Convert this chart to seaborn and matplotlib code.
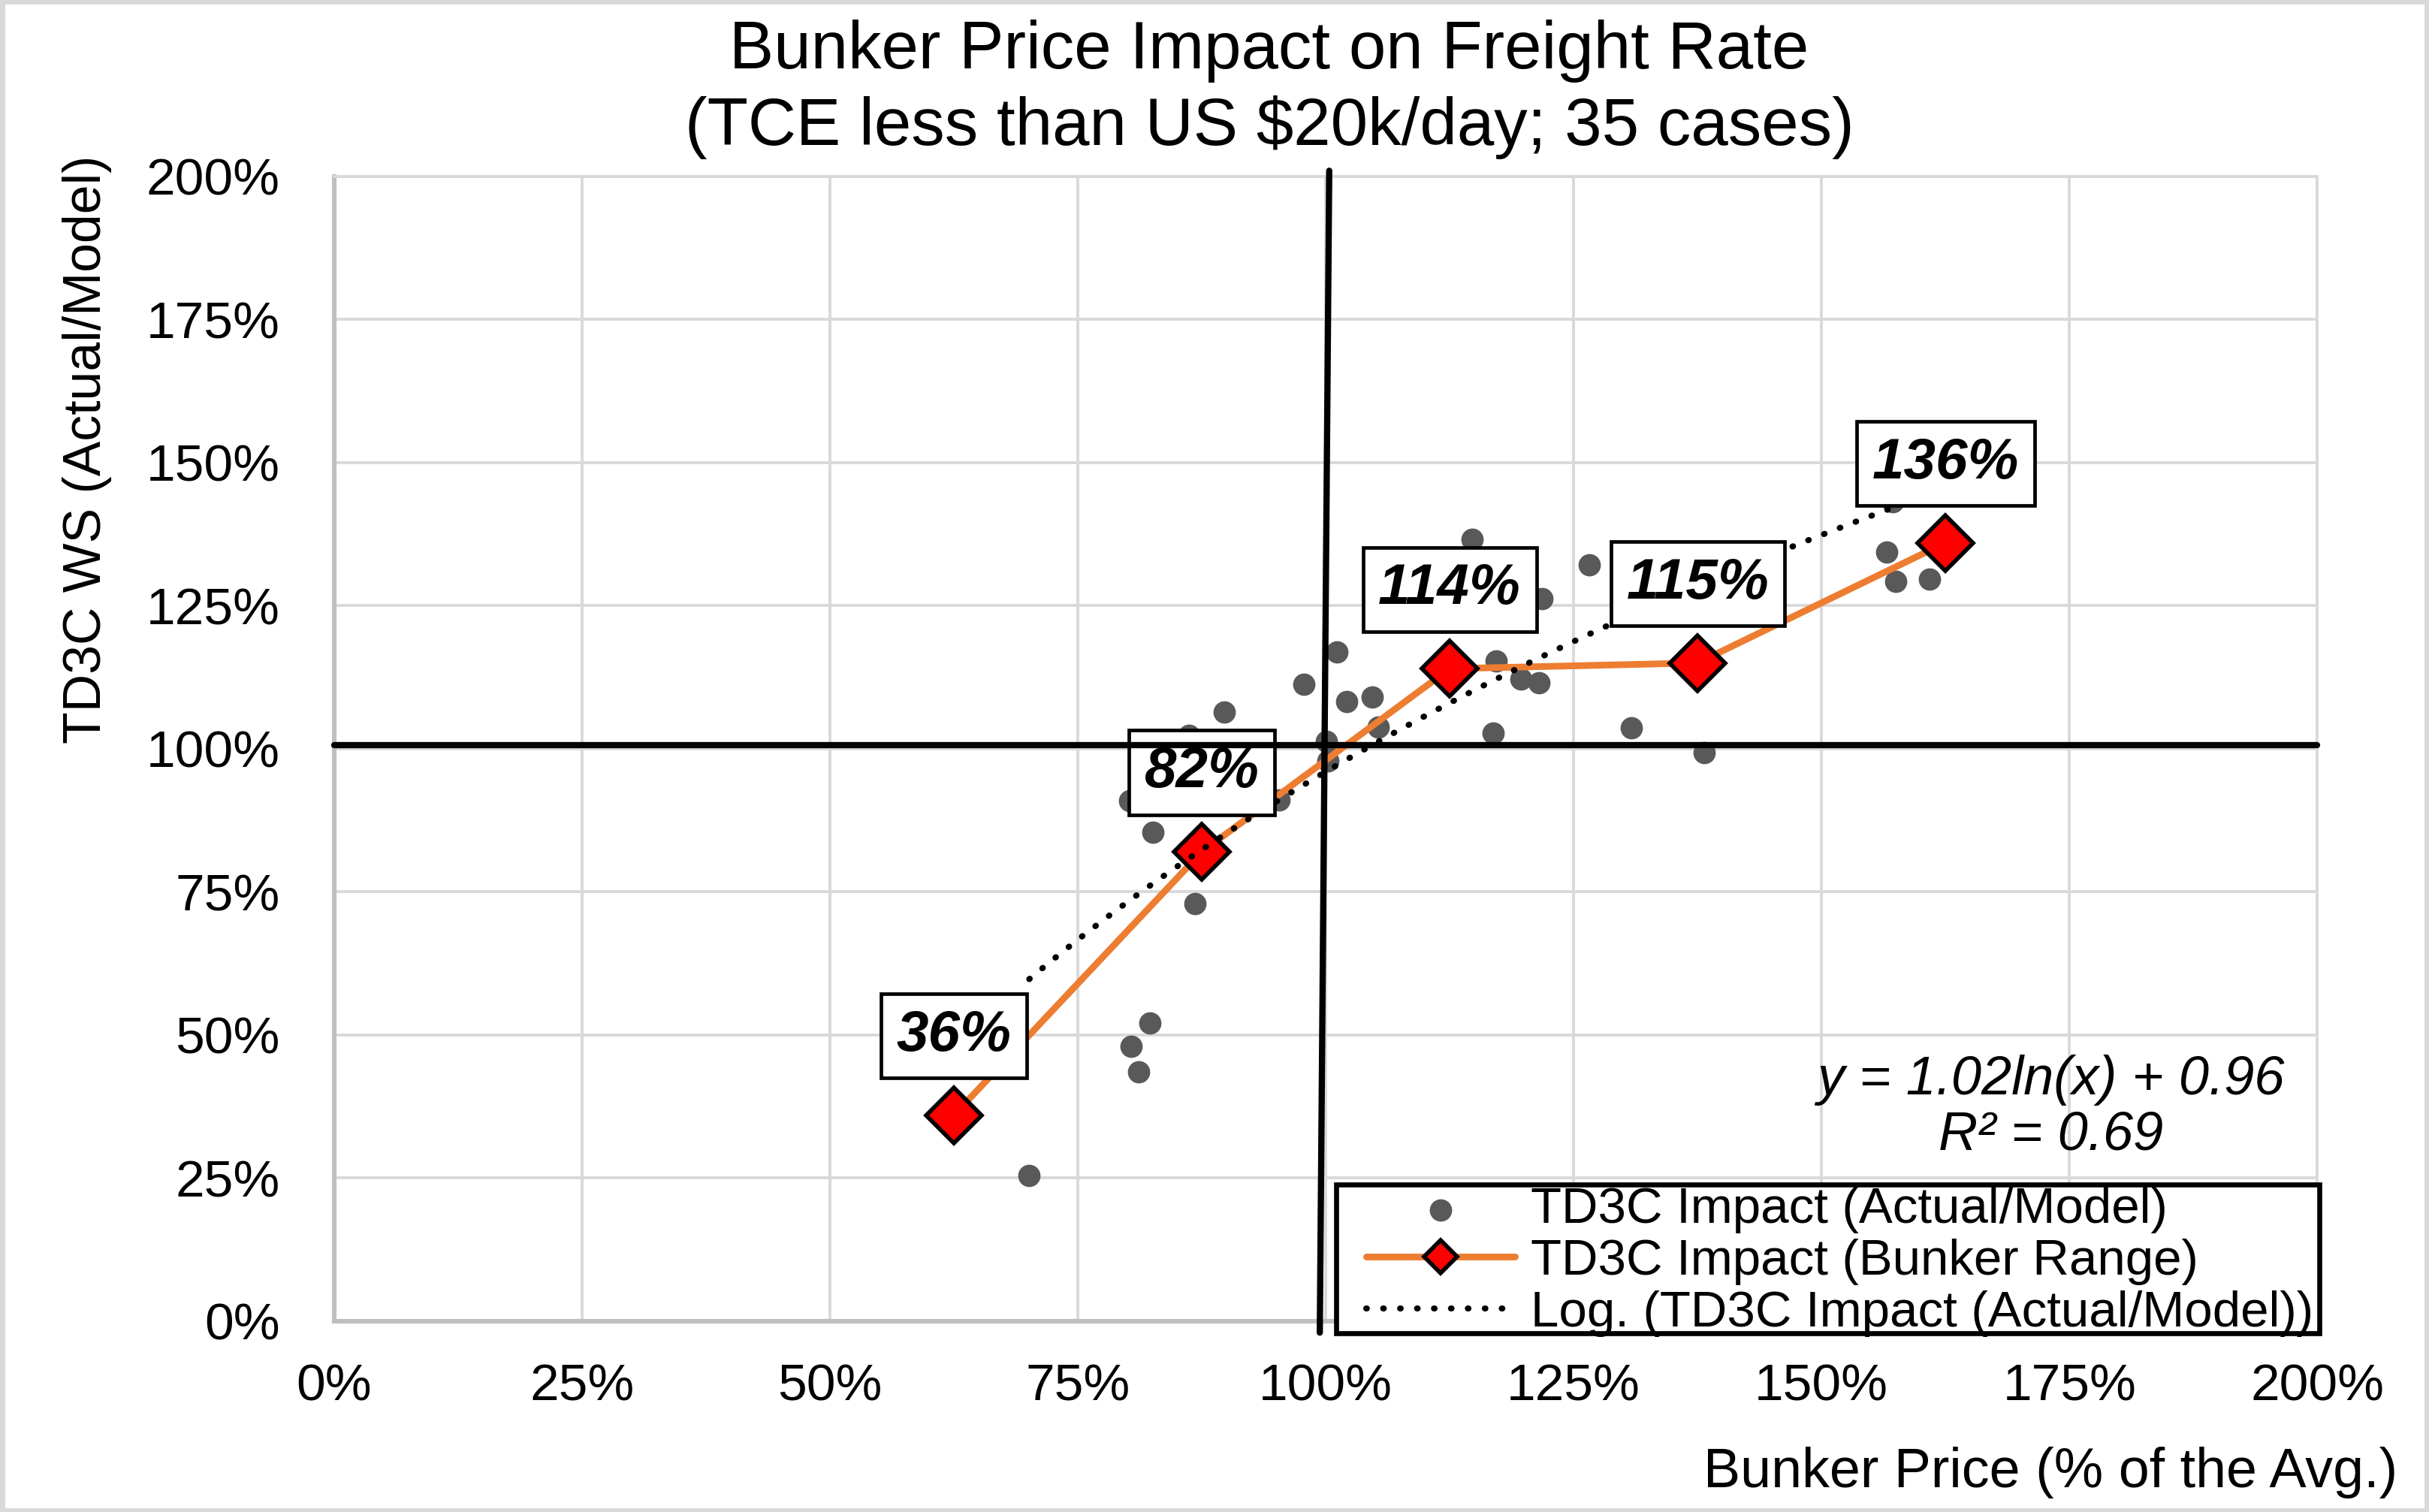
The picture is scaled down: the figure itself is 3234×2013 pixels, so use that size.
import numpy as np
import pandas as pd
import seaborn as sns
import matplotlib.pyplot as plt
from matplotlib.ticker import PercentFormatter, MultipleLocator
from matplotlib.patches import Rectangle

# TD3C impact, actual vs model, per case (bunker price as share of average)
actual_x = [0.701, 0.804, 0.823, 0.811, 0.868, 0.826, 0.802, 0.953, 0.862, 0.898,
            0.978, 1.011, 1.021, 1.047, 1.053, 1.001, 1.002, 1.148, 1.218, 1.172,
            1.197, 1.215, 1.169, 1.266, 1.308, 1.382, 1.566, 1.575, 1.609, 1.572]
actual_y = [0.255, 0.480, 0.521, 0.435, 0.730, 0.854, 0.910, 0.911, 1.023, 1.064,
            1.113, 1.169, 1.083, 1.091, 1.038, 1.013, 0.979, 1.366, 1.263, 1.154,
            1.122, 1.116, 1.028, 1.321, 1.037, 0.994, 1.344, 1.293, 1.296, 1.432]

# averages per bunker price range
bunker_x = [0.625, 0.875, 1.125, 1.375, 1.625]
bunker_y = [0.36, 0.82, 1.14, 1.15, 1.36]
bunker_labels = ["36%", "82%", "114%", "115%", "136%"]

# log trendline as printed on the chart
trend_a = 1.02
trend_b = 0.96
r_squared = 0.69

# the 100% / 100% cross
ref_h_x = [0.0, 2.0]
ref_h_y = [1.007, 1.007]
ref_v_x = [1.0035, 0.994]
ref_v_y = [2.01, -0.02]

sns.set_theme(style="white")
plt.rcParams["font.family"] = ["Liberation Sans", "DejaVu Sans"]
plt.rcParams["text.color"] = "black"
plt.rcParams["axes.labelcolor"] = "black"
plt.rcParams["xtick.color"] = "black"
plt.rcParams["ytick.color"] = "black"

fig = plt.figure(figsize=(16.17, 10.065), dpi=200)
ax = fig.add_axes([0.1376, 0.1262, 0.8164, 0.7571])

df_actual = pd.DataFrame({"x": actual_x, "y": actual_y})
sns.scatterplot(data=df_actual, x="x", y="y", ax=ax, color="#595959", s=115,
                linewidth=0, zorder=2, legend=False)
sc = ax.collections[-1]

df_bunker = pd.DataFrame({"x": bunker_x, "y": bunker_y})
sns.lineplot(data=df_bunker, x="x", y="y", ax=ax, color="#ED7D31", linewidth=3.2,
             marker="D", markersize=19, markerfacecolor="#FF0000",
             markeredgecolor="black", markeredgewidth=2, zorder=3,
             errorbar=None, legend=False)
bunker_line = ax.lines[-1]

# trendline over the data range
tx = np.linspace(min(actual_x), max(actual_x), 300)
ty = trend_a * np.log(tx) + trend_b
trend_line, = ax.plot(tx, ty, color="black", lw=2.9, linestyle=(0, (0.1, 2.7)),
                      dash_capstyle="round", zorder=4)

for x, y, t in zip(bunker_x, bunker_y, bunker_labels):
    ax.annotate(t, (x, y), xytext=(0, 38), textcoords="offset points",
                ha="center", va="center", fontsize=27.5, fontweight="bold",
                fontstyle="italic", zorder=5,
                bbox=dict(boxstyle="square,pad=0.27", fc="white", ec="black", lw=1.7))

ax.plot(ref_h_x, ref_h_y, color="black", lw=3.0, zorder=6, clip_on=False)
ax.plot(ref_v_x, ref_v_y, color="black", lw=3.0, zorder=6, clip_on=False)

ax.text(1.731, 0.373, f"y = {trend_a:.2f}ln(x) + {trend_b:.2f}\nR² = {r_squared:.2f}",
        ha="center", va="center", fontsize=26, fontstyle="italic", linespacing=1.1,
        zorder=5)

ax.set_xlim(0, 2)
ax.set_ylim(0, 2)
ax.xaxis.set_major_locator(MultipleLocator(0.25))
ax.yaxis.set_major_locator(MultipleLocator(0.25))
ax.xaxis.set_major_formatter(PercentFormatter(1.0, decimals=0))
ax.yaxis.set_major_formatter(PercentFormatter(1.0, decimals=0))
ax.grid(True, color="#D9D9D9", lw=1.4)
ax.set_axisbelow(True)
ax.tick_params(axis="both", labelsize=25, length=0, colors="black")
ax.tick_params(axis="y", pad=26)
ax.tick_params(axis="x", pad=20)
ax.set_xlabel("")
ax.set_ylabel("")
for side in ["left", "bottom"]:
    ax.spines[side].set_color("#BFBFBF")
    ax.spines[side].set_linewidth(2.2)
for side in ["top", "right"]:
    ax.spines[side].set_color("#D9D9D9")
    ax.spines[side].set_linewidth(1.4)

# legend frame drawn separately so the entries can sit with Excel-like padding
frame = Rectangle((1779 / 3234, 1 - 1775 / 2013), (3088 - 1779) / 3234, 198 / 2013,
                  transform=fig.transFigure, fc="white", ec="black", lw=2.4,
                  zorder=6.9, clip_on=False)
ax.add_patch(frame)
leg = ax.legend([sc, bunker_line, trend_line],
                ["TD3C Impact (Actual/Model)", "TD3C Impact (Bunker Range)",
                 "Log. (TD3C Impact (Actual/Model))"],
                loc="center left", bbox_to_anchor=(1819 / 3234, 1 - 1680 / 2013),
                bbox_transform=fig.transFigure, frameon=False,
                fontsize=24.2, handlelength=2.95, handletextpad=0.31,
                borderpad=0, labelspacing=0.1, borderaxespad=0)
leg.set_zorder(7)
leg.legend_handles[1].set_markersize(11)

fig.text(0.5226, 1 - 68 / 2013, "Bunker Price Impact on Freight Rate",
         ha="center", va="center", fontsize=32)
fig.text(0.5226, 1 - 170 / 2013, "(TCE less than US $20k/day; 35 cases)",
         ha="center", va="center", fontsize=32)
fig.text(0.0358, 0.703, "TD3C WS (Actual/Model)", rotation=90,
         ha="center", va="center", fontsize=25.1)
fig.text(0.987, 0.0263, "Bunker Price (% of the Avg.)", ha="right",
         va="center", fontsize=26.5)

fig.patches.append(Rectangle((0.001, 0.001), 0.998, 0.998, transform=fig.transFigure,
                             fill=False, ec="#D9D9D9", lw=2.5))

fig.savefig("out.png", dpi=200)
